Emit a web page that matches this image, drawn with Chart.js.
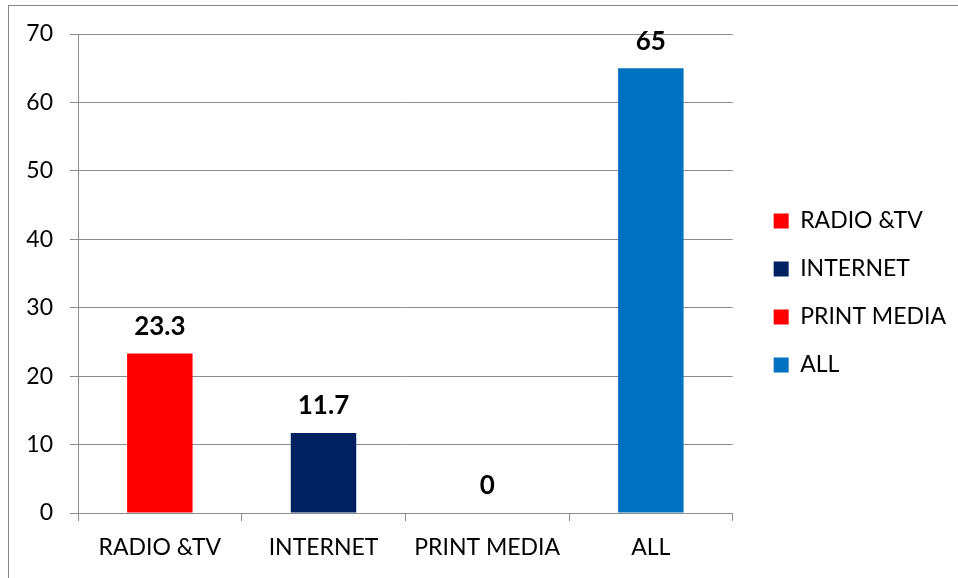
<!DOCTYPE html>
<html>
<head>
<meta charset="utf-8">
<script src="https://cdn.jsdelivr.net/npm/chart.js@4/dist/chart.umd.min.js"></script>
<style>
  html, body { margin: 0; padding: 0; background: #fff; overflow: hidden; }
  #frame {
    position: absolute; left: 8px; top: 5px; width: 980px; height: 620px;
    border-top: 1px solid #888; border-left: 1px solid #888;
  }
  #wrap { position: absolute; left: 0; top: 0; width: 970px; height: 578px; }
</style>
</head>
<body>
<div id="frame"></div>
<div id="wrap"><canvas id="mediaChart"></canvas></div>
<script>
// Категории и значения
const categories = ['RADIO &TV', 'INTERNET', 'PRINT MEDIA', 'ALL'];
const values = [23.3, 11.7, 0, 65];
const barColors = ['#FF0000', '#002060', '#FF0000', '#0070C0'];
const yTicks = [0, 10, 20, 30, 40, 50, 60, 70];

const FONT = 'Lato, "Open Sans", sans-serif';
const GRID = '#8c8c8c';

// Подписи значений над столбцами
const valueLabels = {
    id: 'valueLabels',
    afterDatasetsDraw(chart) {
        const ctx = chart.ctx;
        const meta = chart.getDatasetMeta(0);
        ctx.save();
        ctx.font = 'bold 26px ' + FONT;
        ctx.fillStyle = '#000';
        ctx.textAlign = 'center';
        ctx.textBaseline = 'middle';
        meta.data.forEach((bar, i) => {
            ctx.fillText(String(values[i]), bar.x, bar.y - 27);
        });
        ctx.restore();
    }
};

const ctx = document.getElementById('mediaChart').getContext('2d');
new Chart(ctx, {
    type: 'bar',
    data: {
        labels: categories,
        datasets: [{
            data: values,
            backgroundColor: barColors,
            borderWidth: 0,
            categoryPercentage: 1,
            barPercentage: 0.4
        }]
    },
    options: {
        responsive: true,
        maintainAspectRatio: false,
        animation: false,
        color: '#000',
        layout: { padding: { left: 8, top: 34, right: 14, bottom: 0 } },
        scales: {
            x: {
                offset: true,
                afterFit(scale) { scale.height = 65; },
                grid: {
                    display: true,
                    drawOnChartArea: false,
                    drawTicks: true,
                    tickLength: 8,
                    color: GRID,
                    offset: true
                },
                border: { color: GRID },
                ticks: { color: '#000', font: { family: FONT, size: 23 }, padding: 13 }
            },
            y: {
                min: 0,
                max: 70,
                afterBuildTicks(scale) {
                    scale.ticks = yTicks.map(v => ({ value: v }));
                },
                afterFit(scale) { scale.width = 70; },
                grid: { color: GRID, tickLength: 8 },
                border: { color: GRID },
                ticks: { color: '#000', font: { family: FONT, size: 23 }, padding: 17 }
            },
            // пустая ось справа — отступ между областью графика и легендой
            gap: {
                type: 'linear',
                position: 'right',
                display: true,
                afterFit(scale) { scale.width = 16; },
                grid: { display: false, drawTicks: false },
                border: { display: false },
                ticks: { display: false }
            }
        },
        plugins: {
            tooltip: { enabled: false },
            legend: {
                position: 'right',
                fullSize: false,
                maxWidth: 400,
                // пустой заголовок сдвигает пункты легенды немного вниз
                title: { display: true, text: '', color: '#000', font: { size: 10 }, padding: { top: 0, bottom: 27 } },
                labels: {
                    color: '#000',
                    font: { family: FONT, size: 23 },
                    boxWidth: 15,
                    boxHeight: 15,
                    padding: 25,
                    generateLabels: () => categories.map((c, i) => ({
                        text: c,
                        fillStyle: barColors[i],
                        strokeStyle: barColors[i],
                        fontColor: '#000',
                        lineWidth: 0,
                        index: i
                    }))
                }
            }
        }
    },
    plugins: [valueLabels]
});
</script>
</body>
</html>
